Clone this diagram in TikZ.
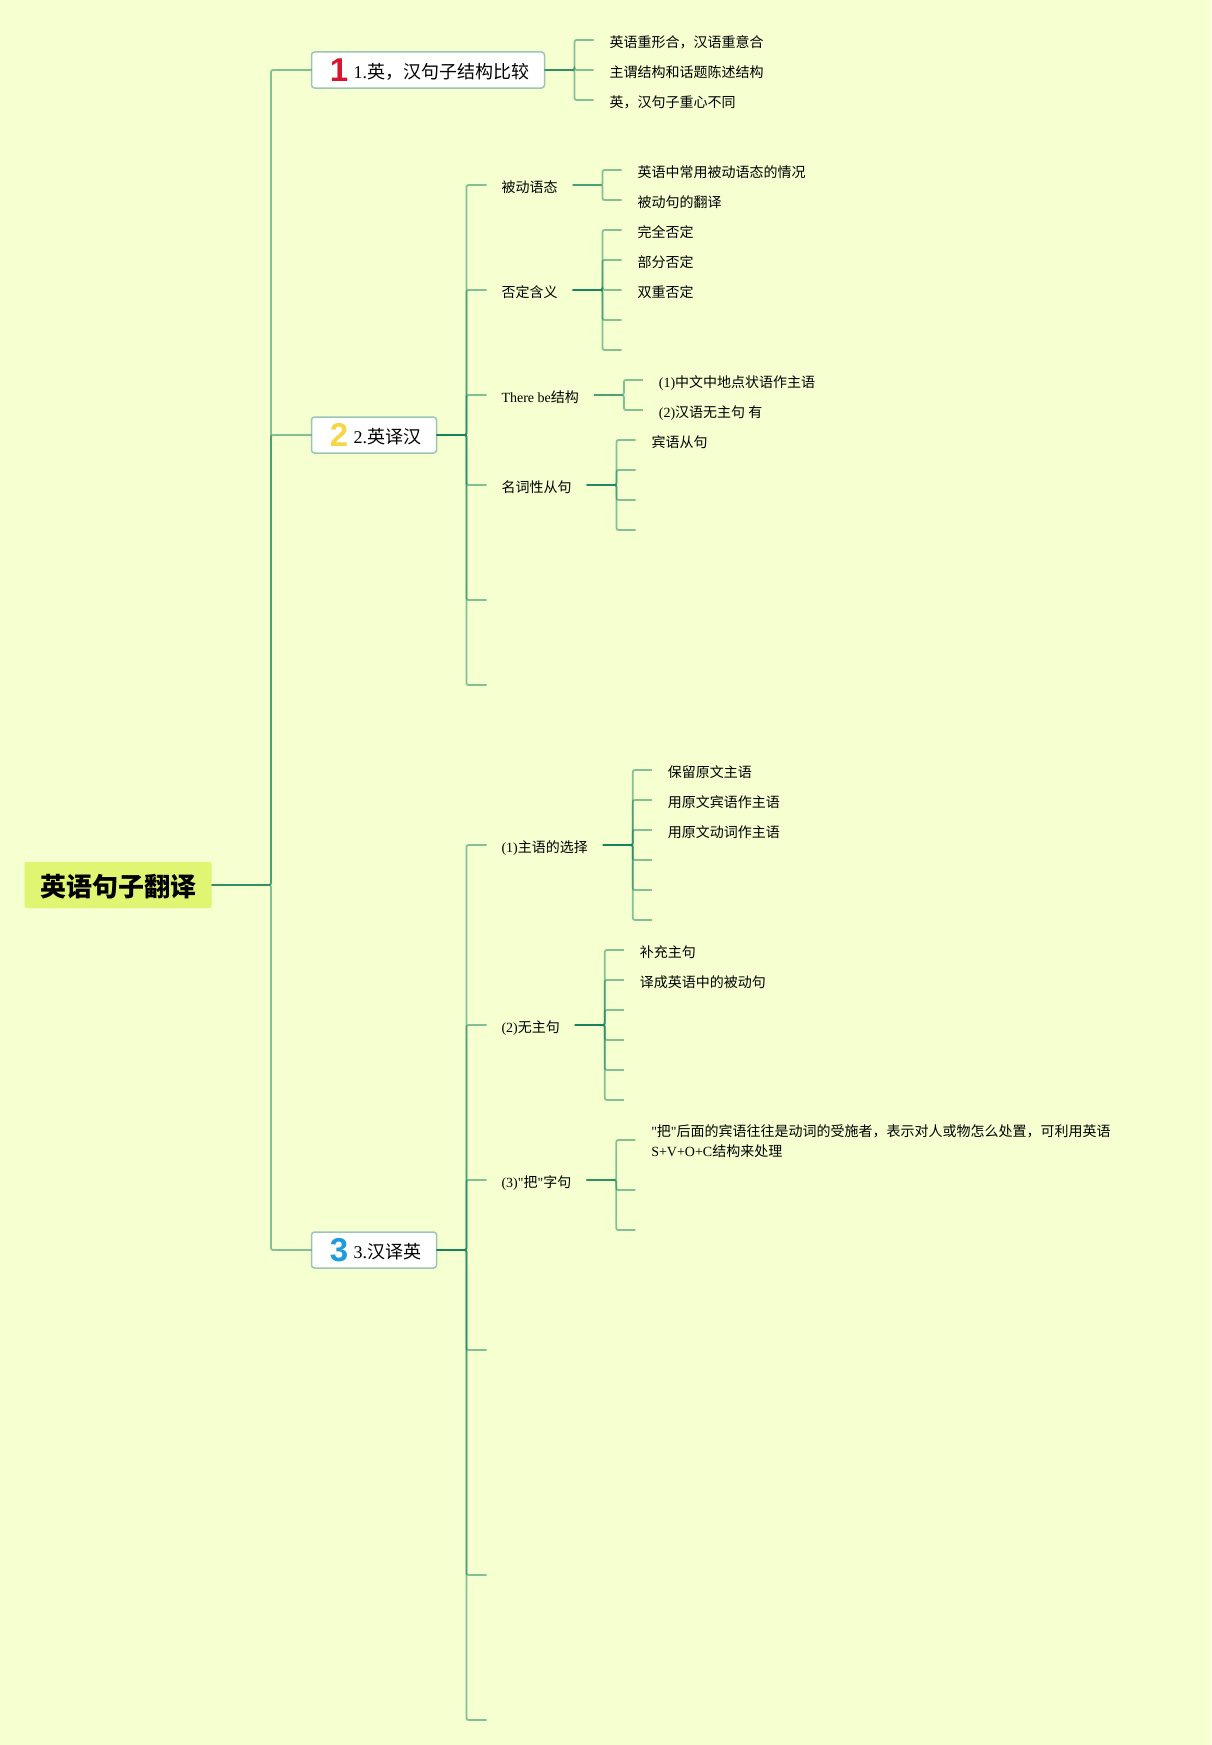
\documentclass[tikz,border=0pt]{standalone}
\usepackage{fontspec}
\setmainfont{Liberation Serif}[Ligatures=TeXOff]
\newfontfamily\cjk{Noto Sans CJK SC}
\newfontfamily\numfont{Liberation Sans}
\usetikzlibrary{positioning}
\definecolor{bgcol}{HTML}{F5FFD0}
\definecolor{rootcol}{HTML}{E0F572}
\definecolor{edgecol}{HTML}{9CC5B8}
\definecolor{linecol}{HTML}{16825A}
\definecolor{numred}{HTML}{D9142E}
\definecolor{numyellow}{HTML}{F4D648}
\definecolor{numblue}{HTML}{1E9BDC}

\begin{document}
\begin{tikzpicture}[
      x=1pt,y=-1pt,
      every node/.style={outer sep=0pt},
      myroot/.style={
         fill=rootcol,
         rounded corners=2pt,
         inner xsep=15.5pt,
         inner ysep=0pt,
         minimum height=46pt,
         text height=24.6pt,
         text depth=2pt,
         font=\fontsize{26}{30}\selectfont\bfseries},
      mytopic/.style={
         draw=edgecol,
         line width=1.5pt,
         fill=white,
         rounded corners=3pt,
         inner xsep=15.5pt,
         inner ysep=0pt,
         minimum height=36pt,
         text height=18pt,
         text depth=1.4pt,
         font=\fontsize{18}{22}\selectfont,
         execute at begin node={\hspace*{26.5pt}}},
      mysub/.style={
         inner xsep=15pt,
         inner ysep=2pt,
         text height=15pt,
         text depth=0.6pt,
         font=\fontsize{14}{20}\selectfont},
      myleaf/.style={
         mysub,
         inner xsep=16pt},
      mynote/.style={
         inner xsep=16pt,
         inner ysep=2pt,
         align=left,
         font=\fontsize{14}{20}\selectfont},
      mynum/.style={
         inner sep=0pt,
         font=\fontsize{33}{33}\selectfont\numfont\bfseries},
      myline/.style={
         draw=linecol,
         draw opacity=0.5,
         line width=1.8pt,
         rounded corners=2pt},
      node distance=49pt
      ]
      \fill[bgcol] (0,0) rectangle (1211,1745);
      \useasboundingbox (0,0) rectangle (1211,1745);

      \node[myroot] (root) at (118,885) {\cjk 英语句子翻译};

      \node[mytopic,right=100pt of root,yshift=815pt] (b1) {1.{\cjk 英，汉句子结构比较}};
      \node[mytopic,right=100pt of root,yshift=450pt] (b2) {2.{\cjk 英译汉}};
      \node[mytopic,right=100pt of root,yshift=-365pt] (b3) {3.{\cjk 汉译英}};
      \node[mynum,text=numred] (n1) at ([xshift=27.5pt]b1.west) {1};
      \node[mynum,text=numyellow] (n2) at ([xshift=27.5pt]b2.west) {2};
      \node[mynum,text=numblue] (n3) at ([xshift=27.5pt]b3.west) {3};

      % first topic
      \node[myleaf,right=of b1,yshift=30pt] (l11) {\cjk 英语重形合，汉语重意合};
      \node[myleaf,right=of b1] (l12) {\cjk 主谓结构和话题陈述结构};
      \node[myleaf,right=of b1,yshift=-30pt] (l13) {\cjk 英，汉句子重心不同};

      % second topic
      \node[mysub,right=50pt of b2,yshift=250pt] (s21) {\cjk 被动语态};
      \node[mysub,right=50pt of b2,yshift=145pt] (s22) {\cjk 否定含义};
      \node[mysub,right=50pt of b2,yshift=40pt] (s23) {There be{\cjk 结构}};
      \node[mysub,right=50pt of b2,yshift=-50pt] (s24) {\cjk 名词性从句};
      \coordinate[right=50pt of b2,yshift=-165pt] (s25);
      \coordinate[right=50pt of b2,yshift=-250pt] (s26);

      \node[myleaf,right=of s21,yshift=15pt] (l211) {\cjk 英语中常用被动语态的情况};
      \node[myleaf,right=of s21,yshift=-15pt] (l212) {\cjk 被动句的翻译};
      \node[myleaf,right=of s22,yshift=60pt] (l221) {\cjk 完全否定};
      \node[myleaf,right=of s22,yshift=30pt] (l222) {\cjk 部分否定};
      \node[myleaf,right=of s22] (l223) {\cjk 双重否定};
      \coordinate[right=of s22,yshift=-30pt] (l224);
      \coordinate[right=of s22,yshift=-60pt] (l225);
      \node[myleaf,right=of s23,yshift=15pt] (l231) {(1){\cjk 中文中地点状语作主语}};
      \node[myleaf,right=of s23,yshift=-15pt] (l232) {(2){\cjk 汉语无主句 有}};
      \node[myleaf,right=of s24,yshift=45pt] (l241) {\cjk 宾语从句};
      \coordinate[right=of s24,yshift=15pt] (l242);
      \coordinate[right=of s24,yshift=-15pt] (l243);
      \coordinate[right=of s24,yshift=-45pt] (l244);

      % third topic
      \node[mysub,right=50pt of b3,yshift=405pt] (s31) {(1){\cjk 主语的选择}};
      \node[mysub,right=50pt of b3,yshift=225pt] (s32) {(2){\cjk 无主句}};
      \node[mysub,right=50pt of b3,yshift=70pt] (s33) {(3)"{\cjk 把}"{\cjk 字句}};
      \coordinate[right=50pt of b3,yshift=-100pt] (s34);
      \coordinate[right=50pt of b3,yshift=-325pt] (s35);
      \coordinate[right=50pt of b3,yshift=-470pt] (s36);

      \node[myleaf,right=of s31,yshift=75pt] (l311) {\cjk 保留原文主语};
      \node[myleaf,right=of s31,yshift=45pt] (l312) {\cjk 用原文宾语作主语};
      \node[myleaf,right=of s31,yshift=15pt] (l313) {\cjk 用原文动词作主语};
      \coordinate[right=of s31,yshift=-15pt] (l314);
      \coordinate[right=of s31,yshift=-45pt] (l315);
      \coordinate[right=of s31,yshift=-75pt] (l316);
      \node[myleaf,right=of s32,yshift=75pt] (l321) {\cjk 补充主句};
      \node[myleaf,right=of s32,yshift=45pt] (l322) {\cjk 译成英语中的被动句};
      \coordinate[right=of s32,yshift=15pt] (l323);
      \coordinate[right=of s32,yshift=-15pt] (l324);
      \coordinate[right=of s32,yshift=-45pt] (l325);
      \coordinate[right=of s32,yshift=-75pt] (l326);
      \node[mynote,right=of s33,yshift=40pt] (l331) {\rule{0pt}{14pt}"{\cjk 把}"{\cjk 后面的宾语往往是动词的受施者，表示对人或物怎么处置，可利用英语}\\S+V+O+C{\cjk 结构来处理}};
      \coordinate[right=of s33,yshift=-10pt] (l332);
      \coordinate[right=of s33,yshift=-50pt] (l333);

      \foreach \j in {b1,b2,b3}
       \draw [myline] (root.east) -- ++(59.5pt,0) |- (\j);

    \foreach \i/\j in {% start node/end node
      b1/l11,b1/l12,b1/l13,
      b2/s21,b2/s22,b2/s23,b2/s24,b2/s25,b2/s26,
      s21/l211,s21/l212,
      s22/l221,s22/l222,s22/l223,s22/l224,s22/l225,
      s23/l231,s23/l232,
      s24/l241,s24/l242,s24/l243,s24/l244,
      b3/s31,b3/s32,b3/s33,b3/s34,b3/s35,b3/s36,
      s31/l311,s31/l312,s31/l313,s31/l314,s31/l315,s31/l316,
      s32/l321,s32/l322,s32/l323,s32/l324,s32/l325,s32/l326,
      s33/l331,s33/l332,s33/l333}
       \draw [myline] (\i.east) -- ++(30pt,0) |- (\j);

    \end{tikzpicture}
\end{document}
